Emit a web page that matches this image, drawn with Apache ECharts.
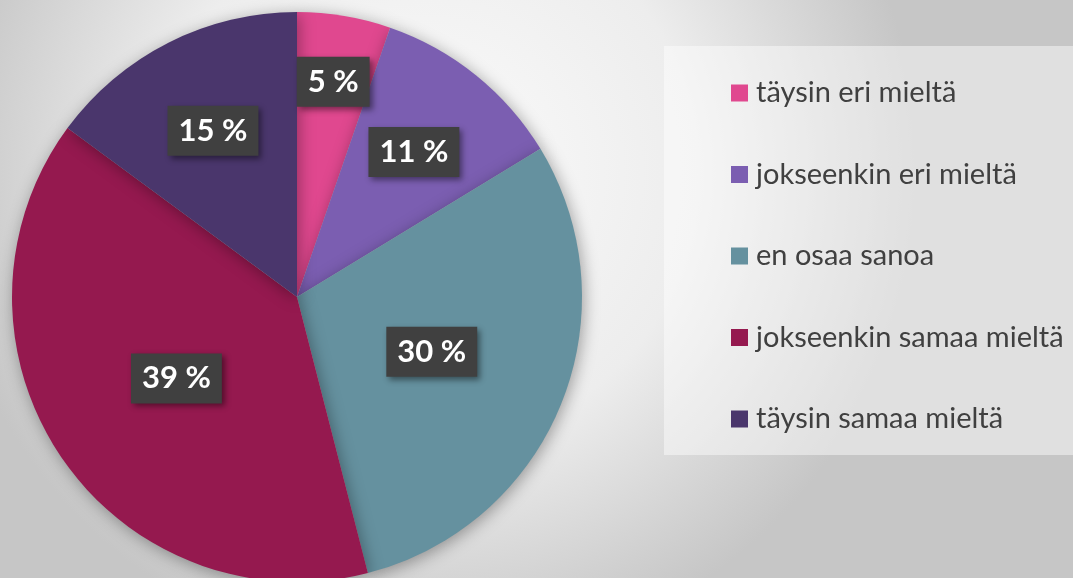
<!DOCTYPE html>
<html>
<head>
<meta charset="utf-8">
<script src="https://cdn.jsdelivr.net/npm/echarts@6/dist/echarts.min.js"></script>
<style>
html,body{margin:0;padding:0;}
#chart{width:1073px;height:578px;}
</style>
</head>
<body>
<div id="chart"></div>
<script>
// answers, clockwise from 12 o'clock
var categories = ['täysin eri mieltä', 'jokseenkin eri mieltä', 'en osaa sanoa', 'jokseenkin samaa mieltä', 'täysin samaa mieltä'];
var shares = [5.3, 11.0, 29.7, 39.1, 14.9];
var colors = ['#e0488f', '#7b5eb1', '#65919f', '#95194f', '#4a366c'];
// how far out each label sits compared to the default middle of the radius
var labelPush = [1.5, 1.28, 1.0, 1.0, 1.28];

var cx = 297, cy = 297, R = 285;

var data = []
categories.forEach(function(name, i){
  data.push({ name: name, value: shares[i], itemStyle: { color: colors[i] } })
})

var chart = echarts.init(document.getElementById('chart'))
chart.setOption({
  backgroundColor: {
    type: 'radial', x: 0.4, y: 0.3, r: 0.85,
    colorStops: [
      { offset: 0, color: '#fbfbfb' },
      { offset: 0.55, color: '#ededed' },
      { offset: 1, color: '#c6c6c6' }
    ]
  },
  graphic: [{
    type: 'rect', z: 0,
    shape: { x: 664, y: 46, width: 409, height: 409 },
    style: { fill: 'rgba(255,255,255,0.45)' }
  }],
  legend: {
    orient: 'vertical',
    left: 726, top: 73,
    itemWidth: 17, itemHeight: 17,
    itemGap: 51.5,
    icon: 'rect',
    textStyle: { color: '#404040', fontSize: 29, fontFamily: 'Lato', lineHeight: 30, padding: [0, 0, 0, 3] },
    data: categories
  },
  series: [{
    type: 'pie',
    center: [cx, cy],
    radius: R,
    startAngle: 90,
    clockwise: true,
    animation: false,
    data: data,
    itemStyle: { shadowBlur: 16, shadowColor: 'rgba(0,0,0,0.35)', shadowOffsetX: 2, shadowOffsetY: 3 },
    label: {
      position: 'inside',
      formatter: function(p){ return Math.round(p.value) + ' %' },
      color: '#fff',
      fontFamily: 'Lato',
      fontWeight: 'bold',
      fontSize: 31,
      lineHeight: 34,
      backgroundColor: '#404040',
      padding: [8, 11, 8, 11],
      shadowBlur: 6,
      shadowColor: 'rgba(0,0,0,0.45)',
      shadowOffsetX: 3,
      shadowOffsetY: 3
    },
    labelLine: { show: false },
    labelLayout: function(p){
      var r = p.labelRect
      var lx = r.x + r.width / 2, ly = r.y + r.height / 2
      var k = labelPush[p.dataIndex]
      return { dx: (k - 1) * (lx - cx), dy: (k - 1) * (ly - cy) }
    }
  }]
})
</script>
</body>
</html>
